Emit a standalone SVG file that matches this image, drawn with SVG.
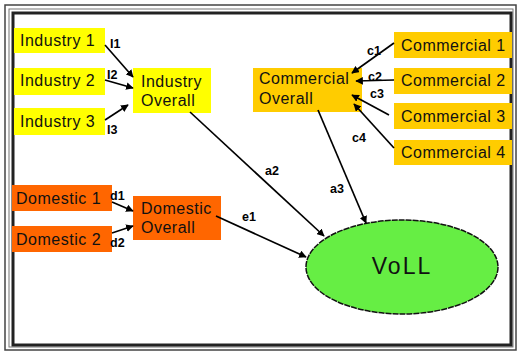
<svg xmlns="http://www.w3.org/2000/svg" width="518" height="352" viewBox="0 0 518 352">
<defs>
<marker id="ah" viewBox="0 0 10 10" refX="9" refY="5" markerWidth="4.5" markerHeight="4.5" orient="auto" markerUnits="strokeWidth">
<path d="M0,0 L10,5 L0,10 z" fill="#000"/>
</marker>
<style>
.n{font-family:"Liberation Sans",Arial,sans-serif;font-size:16px;fill:#111;letter-spacing:0.5px}
.l{font-family:"Liberation Sans",Arial,sans-serif;font-size:12.5px;font-weight:bold;fill:#000}
.c{stroke:#000;stroke-width:1.7;fill:none;marker-end:url(#ah)}
.y{fill:#ffff00}
.o{fill:#ffcc00}
.d{fill:#ff6600}
</style>
</defs>
<rect x="0" y="0" width="518" height="352" fill="#fff"/>
<g id="frame" fill="none">
<rect x="5" y="5" width="511" height="345" stroke="#444" stroke-width="1.5"/>
<rect x="9" y="9" width="504" height="338" stroke="#777" stroke-width="1"/>
<rect x="13" y="13" width="498" height="332" stroke="#222" stroke-width="3"/>
</g>
<g id="industry1"><rect class="y" x="14" y="28" width="91" height="25"/><text class="n" x="20" y="46">Industry 1</text></g>
<g id="industry2"><rect class="y" x="14" y="68" width="91" height="27"/><text class="n" x="20" y="86">Industry 2</text></g>
<g id="industry3"><rect class="y" x="14" y="108" width="91" height="27"/><text class="n" x="20" y="127">Industry 3</text></g>
<g id="industryOverall"><rect class="y" x="133" y="68" width="78" height="45"/><text class="n" x="141" y="87">Industry</text><text class="n" x="141" y="106">Overall</text></g>
<g id="commercial1"><rect class="o" x="394" y="32" width="118" height="26"/><text class="n" x="401" y="51">Commercial 1</text></g>
<g id="commercial2"><rect class="o" x="394" y="68" width="118" height="26"/><text class="n" x="401" y="86">Commercial 2</text></g>
<g id="commercial3"><rect class="o" x="394" y="103" width="118" height="26"/><text class="n" x="401" y="122">Commercial 3</text></g>
<g id="commercial4"><rect class="o" x="394" y="140" width="118" height="25"/><text class="n" x="401" y="158">Commercial 4</text></g>
<g id="commercialOverall"><rect class="o" x="253" y="68" width="109" height="44"/><text class="n" x="259" y="84">Commercial</text><text class="n" x="259" y="104">Overall</text></g>
<g id="domestic1"><rect class="d" x="12" y="185" width="100" height="26"/><text class="n" x="16" y="204">Domestic 1</text></g>
<g id="domestic2"><rect class="d" x="12" y="226" width="100" height="26"/><text class="n" x="16" y="245">Domestic 2</text></g>
<g id="domesticOverall"><rect class="d" x="133" y="196" width="88" height="44"/><text class="n" x="141" y="214">Domestic</text><text class="n" x="141" y="233">Overall</text></g>
<g id="voll"><ellipse cx="402" cy="267" rx="96" ry="47" fill="#66ee44" stroke="#111" stroke-width="1.5" stroke-dasharray="6,1"/><text x="402" y="274" text-anchor="middle" font-family="Liberation Sans,Arial,sans-serif" font-size="23" letter-spacing="2" fill="#111">VoLL</text></g>
<g id="connectors">
<line class="c" x1="105" y1="45" x2="133" y2="77"/>
<line class="c" x1="105" y1="80" x2="133" y2="88"/>
<line class="c" x1="105" y1="120" x2="128" y2="105"/>
<line class="c" x1="190" y1="112" x2="324" y2="236"/>
<line class="c" x1="394" y1="43" x2="352" y2="73"/>
<line class="c" x1="394" y1="80" x2="356" y2="81"/>
<line class="c" x1="389" y1="115" x2="352" y2="95"/>
<line class="c" x1="394" y1="148" x2="354" y2="104"/>
<line class="c" x1="318" y1="110" x2="366" y2="223"/>
<line class="c" x1="112" y1="202" x2="133" y2="211"/>
<line class="c" x1="112" y1="233" x2="133" y2="226"/>
<line class="c" x1="216" y1="216" x2="306" y2="257"/>
<text class="l" x="110" y="48">I1</text>
<text class="l" x="107" y="79">I2</text>
<text class="l" x="107" y="134">I3</text>
<text class="l" x="367" y="55">c1</text>
<text class="l" x="368" y="81">c2</text>
<text class="l" x="370" y="98">c3</text>
<text class="l" x="352" y="142">c4</text>
<text class="l" x="265" y="175">a2</text>
<text class="l" x="330" y="193">a3</text>
<text class="l" x="242" y="221">e1</text>
<text class="l" x="110" y="200">d1</text>
<text class="l" x="110" y="247">d2</text>
</g>
</svg>
